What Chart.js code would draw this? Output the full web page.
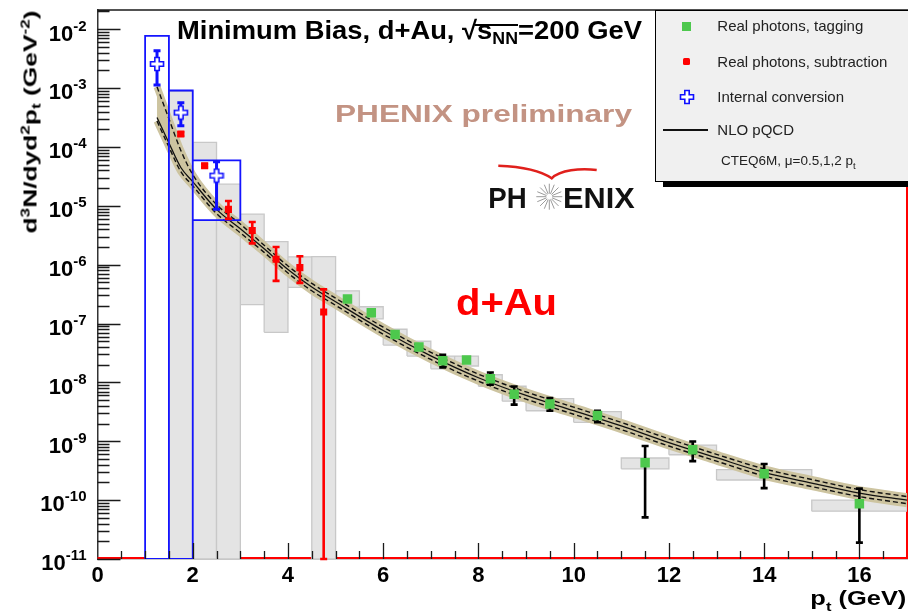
<!DOCTYPE html>
<html>
<head>
<meta charset="utf-8">
<script src="https://cdn.jsdelivr.net/npm/chart.js@4.4.1/dist/chart.umd.min.js"></script>
<style>
  html, body { margin: 0; padding: 0; background: #fff; }
  #wrap { position: relative; width: 908px; height: 616px; overflow: hidden; font-family: "Liberation Sans", Arial, sans-serif; }
  #wrap canvas { position: absolute; left: 0; top: 0; }
  .lbl { position: absolute; white-space: nowrap; line-height: 1; font-weight: bold; color: #000; }
  .lbl sup { font-size: 0.65em; vertical-align: 0.55em; line-height: 0; }
  .lbl sub { font-size: 0.65em; vertical-align: -0.3em; line-height: 0; }
  .ovl { position: relative; }
  .ovl::before { content: ''; position: absolute; left: -2px; right: 0; top: 0.36em; height: 2px; background: #000; }
  #legend { position: absolute; left: 655px; top: 10px; width: 270px; height: 172px; box-sizing: border-box;
            background: #f0f0f0; border: 1px solid #000; box-shadow: 8px 5px 0 0 #000; }
  #legend .lt { position: absolute; white-space: nowrap; line-height: 1; font-size: 15px; color: #222; }
  #legend .mk { position: absolute; }
</style>
</head>
<body>
<div id="wrap">
  <canvas id="graph_container" width="908" height="616"></canvas>

  <div id="title" class="lbl" style="left:177px;top:17px;font-size:26px">Minimum Bias, d+Au, √<span class="ovl">s<sub>NN</sub></span>=200 GeV</div>
  <div id="prelim" class="lbl" style="left:335px;top:102px;font-size:24.5px;color:#c39383">PHENIX preliminary</div>
  <div id="dau" class="lbl" style="left:456px;top:283.7px;font-size:37px;color:#ff0000">d+Au</div>

  <svg style="position:absolute;left:480px;top:150px" width="170" height="70">
    <path d="M18.3,15.7 C40,16.5 60,20 71.7,28.3 C80,20 100,18 116.7,20" stroke="#e0201c" stroke-width="2.5" fill="none"/>
    <g id="star" stroke="#9a9a9a" stroke-width="1"></g>
    <text x="8.3" y="58.3" textLength="38.4" lengthAdjust="spacingAndGlyphs" font-family="Liberation Sans, Arial" font-weight="bold" font-size="29.5" fill="#111">PH</text>
    <text x="83" y="58.3" textLength="71.7" lengthAdjust="spacingAndGlyphs" font-family="Liberation Sans, Arial" font-weight="bold" font-size="29.5" fill="#111">ENIX</text>
  </svg>

  <div id="legend">
    <div class="mk" style="left:26.2px;top:10.5px;width:9px;height:9px;background:#4dc84d"></div>
    <div class="lt" style="left:61.3px;top:7.3px">Real photons, tagging</div>
    <div class="mk" style="left:27.2px;top:47.2px;width:7px;height:7px;background:#ff0000;border-radius:1.5px"></div>
    <div class="lt" style="left:61.3px;top:43px">Real photons, subtraction</div>
    <svg class="mk" style="left:22.7px;top:77.7px" width="16" height="16">
      <polygon points="5.8,1.5 10.2,1.5 10.2,5.8 14.5,5.8 14.5,10.2 10.2,10.2 10.2,14.5 5.8,14.5 5.8,10.2 1.5,10.2 1.5,5.8 5.8,5.8" fill="#fff" stroke="#1010ff" stroke-width="1.6"/>
    </svg>
    <div class="lt" style="left:61.3px;top:78px">Internal conversion</div>
    <div class="mk" style="left:7px;top:118.3px;width:45px;height:1.5px;background:#111"></div>
    <div class="lt" style="left:61.3px;top:111.3px">NLO pQCD</div>
    <div class="lt" style="left:65px;top:143.3px;font-size:13.5px">CTEQ6M, μ=0.5,1,2 p<sub style="font-size:0.7em;vertical-align:-0.45em;line-height:0">t</sub></div>
  </div>

  <div id="ytitle" class="lbl" style="left:30px;top:121.5px;font-size:19px">d<sup>3</sup>N/dyd<sup>2</sup>p<sub>t</sub> (GeV<sup>-2</sup>)</div>
  <div id="xtitle" class="lbl" style="right:2px;top:587.6px;font-size:20.5px">p<sub style="vertical-align:-0.45em">t</sub> (GeV)</div>
</div>

<script>
// NLO pQCD curves (mu = pt, 0.5 pt, 2 pt)
var thPt = [1.25, 1.5, 1.75, 2, 2.5, 3, 3.5, 4, 4.5, 5, 6, 7, 8, 9, 10, 11, 12, 13, 14, 15, 16, 17];
var thMu1 = [3.16e-4, 1.17e-4, 4.47e-5, 2.57e-5, 8.7e-6, 4.07e-6, 1.86e-6, 8.3e-7, 4.17e-7, 2.34e-7, 7.6e-8, 2.82e-8,
             1.2e-8, 6.0e-9, 3.31e-9, 1.82e-9, 9.5e-10, 5.25e-10, 2.95e-10, 1.95e-10, 1.32e-10, 1.0e-10];
var thMuHalf = [1.05e-3, 3.0e-4, 8.7e-5, 3.4e-5, 1.05e-5, 4.9e-6, 2.14e-6, 9.5e-7, 4.8e-7, 2.7e-7, 8.7e-8, 3.24e-8,
                1.38e-8, 6.9e-9, 3.8e-9, 2.09e-9, 1.1e-9, 6.0e-10, 3.4e-10, 2.24e-10, 1.51e-10, 1.15e-10];
var thMuTwo = [2.75e-4, 1.0e-4, 3.8e-5, 2.19e-5, 7.4e-6, 3.47e-6, 1.62e-6, 7.2e-7, 3.6e-7, 2.04e-7, 6.6e-8, 2.45e-8,
               1.05e-8, 5.2e-9, 2.88e-9, 1.58e-9, 8.3e-10, 4.6e-10, 2.57e-10, 1.7e-10, 1.15e-10, 8.7e-11];

// internal conversion (blue)
var convPt = [1.25, 1.75, 2.5];
var convVal = [2.57e-3, 3.83e-4, 3.26e-5];
var convErrLo = [1.13e-3, 2.28e-4, 8.75e-6];
var convErrHi = [4.3e-3, 5.66e-4, 5.6e-5];
var convBinLo = [1.0, 1.5, 2.0];
var convBinHi = [1.5, 2.0, 3.0];
var convSysLo = [1e-11, 1e-11, 5.7e-6];
var convSysHi = [7.7e-3, 9.1e-4, 5.9e-5];

// real photons, subtraction (red)
var subPt = [1.75, 2.25, 2.75, 3.25, 3.75, 4.25, 4.75];
var subVal = [1.66e-4, 4.8e-5, 8.7e-6, 3.8e-6, 1.24e-6, 8.9e-7, 1.57e-7];
var subErrLo = [1.55e-4, 4.5e-5, 6.0e-6, 2.3e-6, 5.3e-7, 4.9e-7, 1e-11];
var subErrHi = [1.78e-4, 5.1e-5, 1.21e-5, 5.3e-6, 2.0e-6, 1.39e-6, 3.8e-7];
var subBinLo = [1.5, 2.0, 2.5, 3.0, 3.5, 4.0, 4.5];
var subBinHi = [2.0, 2.5, 3.0, 3.5, 4.0, 4.5, 5.0];
var subSysLo = [1e-11, 1e-11, 1e-11, 2.1e-7, 7.1e-8, 4.1e-7, 1e-11];
var subSysHi = [8.8e-4, 1.2e-4, 2.33e-5, 7.2e-6, 2.47e-6, 1.36e-6, 1.37e-6];

// real photons, tagging (green)
var tagPt = [5.25, 5.75, 6.25, 6.75, 7.25, 7.75, 8.25, 8.75, 9.5, 10.5, 11.5, 12.5, 14, 16];
var tagVal = [2.6e-7, 1.53e-7, 6.5e-8, 4.0e-8, 2.34e-8, 2.4e-8, 1.15e-8, 6.3e-9, 4.3e-9, 2.75e-9, 4.3e-10, 7.2e-10, 2.8e-10, 8.7e-11];
var tagErrLo = [2.45e-7, 1.45e-7, 6.1e-8, 3.75e-8, 1.8e-8, 2.25e-8, 9.1e-9, 4.2e-9, 3.3e-9, 2.1e-9, 5.1e-11, 4.6e-10, 1.6e-10, 1.9e-11];
var tagErrHi = [2.75e-7, 1.62e-7, 6.9e-8, 4.25e-8, 2.95e-8, 2.55e-8, 1.47e-8, 8.5e-9, 5.4e-9, 3.3e-9, 8.3e-10, 9.9e-10, 4.1e-10, 1.57e-10];
var tagBinLo = [5.0, 5.5, 6.0, 6.5, 7.0, 7.5, 8.0, 8.5, 9.0, 10.0, 11.0, 12.0, 13.0, 15.0];
var tagBinHi = [5.5, 6.0, 6.5, 7.0, 7.5, 8.0, 8.5, 9.0, 10.0, 11.0, 12.0, 13.0, 15.0, 17.0];
var tagSysLo = [1.9e-7, 1.2e-7, 4.3e-8, 2.8e-8, 1.7e-8, 1.9e-8, 8.6e-9, 4.8e-9, 3.3e-9, 2.1e-9, 3.4e-10, 5.9e-10, 2.2e-10, 6.5e-11];
var tagSysHi = [3.6e-7, 1.93e-7, 8.0e-8, 5.0e-8, 2.8e-8, 2.8e-8, 1.35e-8, 8.6e-9, 5.3e-9, 3.2e-9, 5.2e-10, 8.6e-10, 3.3e-10, 1.0e-10];

// axis labels
var yDecades = [-11, -10, -9, -8, -7, -6, -5, -4, -3, -2];

var tan = 'rgb(205,196,160)';
var boxFill = '#e4e4e4';
var boxLine = '#c8c8c8';

function xy(xs, ys) {
    return xs.map(function(x, i) { return {x: x, y: ys[i]}; });
}

// closed rectangles, one per bin, separated by gaps
function boxPath(binLo, binHi, lo, hi, keep) {
    var pts = [];
    for (var i = 0; i < binLo.length; i++) {
        if (keep && !keep(i)) continue;
        pts.push({x: binLo[i], y: lo[i]}, {x: binHi[i], y: lo[i]}, {x: binHi[i], y: hi[i]},
                 {x: binLo[i], y: hi[i]}, {x: binLo[i], y: lo[i]}, {x: null, y: null});
    }
    return pts;
}

function openCross() {
    var c = document.createElement('canvas');
    c.width = 16; c.height = 16;
    var g = c.getContext('2d');
    var o = 8, a = 6.5, b = 2.2;
    g.beginPath();
    g.moveTo(o - b, o - a); g.lineTo(o + b, o - a); g.lineTo(o + b, o - b); g.lineTo(o + a, o - b);
    g.lineTo(o + a, o + b); g.lineTo(o + b, o + b); g.lineTo(o + b, o + a); g.lineTo(o - b, o + a);
    g.lineTo(o - b, o + b); g.lineTo(o - a, o + b); g.lineTo(o - a, o - b); g.lineTo(o - b, o - b);
    g.closePath();
    g.fillStyle = '#fff'; g.fill();
    g.strokeStyle = '#1010ff'; g.lineWidth = 1.6; g.stroke();
    return c;
}

var noPts = {pointRadius: 0, pointHoverRadius: 0};

var datasets = [
    // the 2.25 syst box sits under the white conversion box
    Object.assign({data: boxPath(subBinLo, subBinHi, subSysLo, subSysHi, function(i) { return subPt[i] === 2.25; }),
        fill: 'shape', backgroundColor: boxFill, borderColor: boxLine, borderWidth: 1.3, order: 100}, noPts),
    Object.assign({data: boxPath(convBinLo, convBinHi, convSysLo, convSysHi),
        fill: 'shape', backgroundColor: '#fff', borderColor: 'rgba(0,0,0,0)', borderWidth: 1, order: 90}, noPts),
    Object.assign({data: boxPath(subBinLo, subBinHi, subSysLo, subSysHi, function(i) { return subPt[i] !== 2.25; }),
        fill: 'shape', backgroundColor: boxFill, borderColor: boxLine, borderWidth: 1.3, order: 80}, noPts),
    Object.assign({data: boxPath(tagBinLo, tagBinHi, tagSysLo, tagSysHi),
        fill: 'shape', backgroundColor: boxFill, borderColor: boxLine, borderWidth: 1.3, order: 80}, noPts),
    // theory band
    Object.assign({data: xy(thPt, thMuHalf), borderColor: tan, backgroundColor: tan, borderWidth: 7, fill: '+1',
        cubicInterpolationMode: 'monotone', order: 70}, noPts),
    Object.assign({data: xy(thPt, thMuTwo), borderColor: tan, borderWidth: 7, fill: false,
        cubicInterpolationMode: 'monotone', order: 70}, noPts),
    Object.assign({data: xy(thPt, thMuHalf), borderColor: '#111', borderWidth: 1.4, borderDash: [5, 3], fill: false,
        cubicInterpolationMode: 'monotone', order: 60}, noPts),
    Object.assign({data: xy(thPt, thMuTwo), borderColor: '#111', borderWidth: 1.4, borderDash: [5, 3], fill: false,
        cubicInterpolationMode: 'monotone', order: 60}, noPts),
    Object.assign({data: xy(thPt, thMu1), borderColor: '#111', borderWidth: 1.3, fill: false,
        cubicInterpolationMode: 'monotone', order: 60}, noPts),
    // conversion box outlines
    Object.assign({data: boxPath(convBinLo, convBinHi, convSysLo, convSysHi),
        fill: false, borderColor: '#1414ff', borderWidth: 1.8, order: 50}, noPts),
    // data points
    {data: xy(tagPt, tagVal), showLine: false, pointStyle: 'rect', pointRadius: 6.7, pointBorderWidth: 0,
        pointBackgroundColor: '#4dc84d', errLo: tagErrLo, errHi: tagErrHi, errColor: '#000', errWidth: 2.6, order: 10},
    {data: xy(subPt, subVal), showLine: false, pointStyle: 'rect', pointRadius: 5, pointBorderWidth: 0,
        pointBackgroundColor: '#ff0000', errLo: subErrLo, errHi: subErrHi, errColor: '#ff0000', errWidth: 2.6, order: 10},
    {data: xy(convPt, convVal), showLine: false, pointStyle: openCross(), pointRadius: 8,
        errLo: convErrLo, errHi: convErrHi, errColor: '#1010ff', errWidth: 3, order: 5}
];

var errorBars = {
    id: 'errorBars',
    beforeDatasetDraw: function(chart, args) {
        var ds = chart.data.datasets[args.index];
        if (!ds.errLo) return;
        var ctx = chart.ctx, xs = chart.scales.x, ys = chart.scales.y;
        ctx.save();
        ctx.strokeStyle = ds.errColor;
        ctx.lineWidth = ds.errWidth;
        ctx.beginPath();
        for (var i = 0; i < ds.data.length; i++) {
            var px = xs.getPixelForValue(ds.data[i].x);
            var lo = ys.getPixelForValue(ds.errLo[i]);
            var hi = ys.getPixelForValue(ds.errHi[i]);
            ctx.moveTo(px, lo); ctx.lineTo(px, hi);
            ctx.moveTo(px - 3.5, lo); ctx.lineTo(px + 3.5, lo);
            ctx.moveTo(px - 3.5, hi); ctx.lineTo(px + 3.5, hi);
        }
        ctx.stroke();
        ctx.restore();
    }
};

var rootFrame = {
    id: 'rootFrame',
    beforeDatasetsDraw: function(chart) {
        // red d+Au frame, underneath the data
        var a = chart.chartArea, ctx = chart.ctx;
        ctx.save();
        ctx.strokeStyle = '#ff0000';
        ctx.lineWidth = 2;
        ctx.beginPath();
        ctx.moveTo(a.left, a.bottom - 1);
        ctx.lineTo(a.right, a.bottom - 1);
        ctx.lineTo(a.right, a.top);
        ctx.stroke();
        ctx.restore();
    },
    afterDatasetsDraw: function(chart) {
        var a = chart.chartArea, ctx = chart.ctx, xs = chart.scales.x, ys = chart.scales.y;
        ctx.save();
        ctx.strokeStyle = '#1a1a1a';
        ctx.lineWidth = 1.3;
        ctx.beginPath();
        ctx.moveTo(a.left, a.top);
        ctx.lineTo(908, a.top);
        yDecades.forEach(function(p) {
            for (var m = 1; m <= 9; m++) {
                var v = m * Math.pow(10, p);
                if (v > ys.max) break;
                var py = Math.round(ys.getPixelForValue(v)) + 0.5;
                ctx.moveTo(a.left, py);
                ctx.lineTo(a.left + (m === 1 ? 23 : 12), py);
            }
        });
        for (var t = 0.5; t < 17; t += 0.5) {
            var px = Math.round(xs.getPixelForValue(t)) + 0.5;
            ctx.moveTo(px, a.bottom);
            ctx.lineTo(px, a.bottom - (t % 2 === 0 ? 16 : 8));
        }
        ctx.stroke();

        // y labels 10^n
        ctx.fillStyle = '#000';
        ctx.textAlign = 'right';
        ctx.textBaseline = 'alphabetic';
        yDecades.forEach(function(p) {
            var py = ys.getPixelForValue(Math.pow(10, p));
            var expo = String(p);
            ctx.font = 'bold 15px "Liberation Sans", Arial';
            var ew = ctx.measureText(expo).width;
            ctx.fillText(expo, 86.5, py + 1.3);
            ctx.font = 'bold 22px "Liberation Sans", Arial';
            ctx.fillText('10', 86.5 - ew, py + 11.3);
        });
        ctx.restore();
    }
};

Chart.defaults.font.family = '"Liberation Sans", Arial, sans-serif';

var ctx = document.getElementById('graph_container').getContext('2d');
var myChart = new Chart(ctx, {
    type: 'line',
    data: {datasets: datasets},
    options: {
        responsive: false,
        animation: false,
        events: [],
        layout: {autoPadding: false, padding: {top: 10, right: 1, left: 0, bottom: 0}},
        plugins: {legend: {display: false}, tooltip: {enabled: false}},
        scales: {
            x: {
                type: 'linear', min: 0, max: 17, position: 'bottom',
                grid: {display: false, drawTicks: false},
                border: {display: true, color: '#222', width: 1.2},
                ticks: {stepSize: 2, includeBounds: false, padding: 4, color: '#000', maxRotation: 0, autoSkip: false,
                        font: {size: 22, weight: 'bold'}},
                afterFit: function(s) { s.height = 57; s.paddingLeft = 0; s.paddingRight = 0; }
            },
            y: {
                type: 'logarithmic', min: 1e-11, max: 0.0212,
                grid: {display: false, drawTicks: false},
                border: {display: true, color: '#333', width: 1.5},
                ticks: {display: false},
                afterFit: function(s) { s.width = 97.5; s.paddingTop = 0; s.paddingBottom = 0; }
            }
        }
    },
    plugins: [errorBars, rootFrame]
});

// phenix logo star
var star = document.getElementById('star');
for (var k = 0; k < 16; k++) {
    var ang = k * Math.PI / 8;
    var ln = document.createElementNS('http://www.w3.org/2000/svg', 'line');
    ln.setAttribute('x1', 69.3 + 3 * Math.cos(ang));
    ln.setAttribute('y1', 46.7 + 3 * Math.sin(ang));
    ln.setAttribute('x2', 69.3 + 13 * Math.cos(ang));
    ln.setAttribute('y2', 46.7 + 13 * Math.sin(ang));
    star.appendChild(ln);
}

// stretch the texts to the widths they have in the picture
function fitWidth(id, w, extra) {
    var el = document.getElementById(id);
    var k = w / el.getBoundingClientRect().width;
    el.style.transform = (extra || '') + 'scaleX(' + k + ')';
}
document.getElementById('title').style.transformOrigin = 'left center';
fitWidth('title', 465);
document.getElementById('prelim').style.transformOrigin = 'left center';
fitWidth('prelim', 297);
document.getElementById('dau').style.transformOrigin = 'left center';
fitWidth('dau', 101);
document.getElementById('xtitle').style.transformOrigin = 'right center';
fitWidth('xtitle', 96);
document.getElementById('ytitle').style.transformOrigin = 'center center';
fitWidth('ytitle', 223, 'translate(-50%,-50%) rotate(-90deg) ');
</script>
</body>
</html>
